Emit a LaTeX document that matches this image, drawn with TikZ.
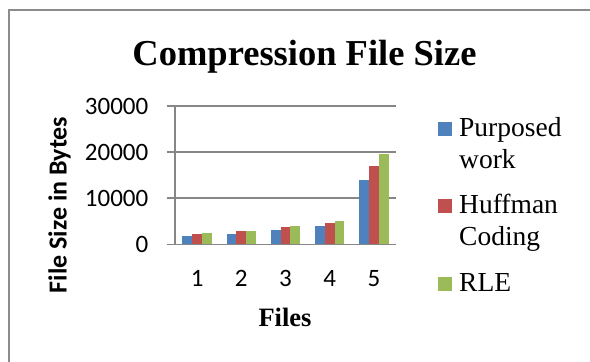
\documentclass[tikz,border=0pt]{standalone}
\usepackage{fontspec}
\setmainfont{Liberation Serif}
\newfontfamily\calibri{Carlito}

\definecolor{serA}{HTML}{4F81BD}
\definecolor{serB}{HTML}{C0504D}
\definecolor{serC}{HTML}{9BBB59}
\definecolor{gridgray}{HTML}{868686}
\definecolor{framegray}{HTML}{8C8C8C}

\begin{document}
\begin{tikzpicture}[x=1pt,y=-1pt,
    gridline/.style={draw=gridgray, line width=1.6pt},
    numlabel/.style={font=\calibri\fontsize{25}{25}\selectfont, inner sep=0pt},
    legtext/.style={font=\fontsize{27.5}{31.5}\selectfont, anchor=base west, inner sep=0pt, align=left},
    legbox/.style={minimum size=14pt, inner sep=0pt, anchor=south west}]
        \useasboundingbox (0,0) rectangle (590,362);

        % Chart frame (cut off at right and bottom)
        \draw[framegray, line width=2pt] (9,362) -- (9,10) -- (590,10);

        % Title
        \node[anchor=base, inner sep=0pt, font=\bfseries\fontsize{36.5}{36.5}\selectfont] (title) at (304.5,65) {Compression File Size};

        % Gridlines and value labels
        \foreach \n/\v in {0/0, 1/10000, 2/20000, 3/30000} {
            \draw[gridline] (166.7,244.3-\n*46.1) -- (396,244.3-\n*46.1);
            \node[numlabel, anchor=east] (ytick\n) at (148.5,244.8-\n*46.1) {\v};
        }
        \draw[gridline] (175,244.3) -- (175,106);

        % Bars in thousands of bytes: Purposed work, Huffman Coding, RLE
        \foreach \i/\a/\b/\c in {1/1.75/2.2/2.4, 2/2.25/2.8/2.8, 3/3.05/3.85/3.9,
                                 4/4.05/4.7/5.15, 5/14/17.05/19.5} {
            \pgfmathsetmacro\cx{175+(\i-0.5)*44.2}
            \fill[serA] (\cx-14.73,244.3) rectangle ++(9.82,-\a*4.61);
            \fill[serB] (\cx-4.91,244.3) rectangle ++(9.82,-\b*4.61);
            \fill[serC] (\cx+4.91,244.3) rectangle ++(9.82,-\c*4.61);
            \node[numlabel, anchor=base] (cat\i) at (\cx,286.7) {\i};
        }

        % Axis titles
        \node[anchor=base, inner sep=0pt, font=\bfseries\fontsize{26.5}{26.5}\selectfont] (xlabel) at (285,326.7) {Files};
        \node[anchor=base, rotate=90, inner sep=0pt, font=\calibri\bfseries\fontsize{26}{26}\selectfont] (ylabel) at (66.7,205) {File Size in Bytes};

        % Legend (base anchor sits on the last line)
        \node[legbox, fill=serA] (keyA) at (438,135.7) {};
        \node[legtext] (legA) at (459,168) {Purposed\\work};
        \node[legbox, fill=serB] (keyB) at (438,212.7) {};
        \node[legtext] (legB) at (459,245) {Huffman\\Coding};
        \node[legbox, fill=serC] (keyC) at (438,290.7) {};
        \node[legtext] (legC) at (459,291) {RLE};
\end{tikzpicture}
\end{document}
